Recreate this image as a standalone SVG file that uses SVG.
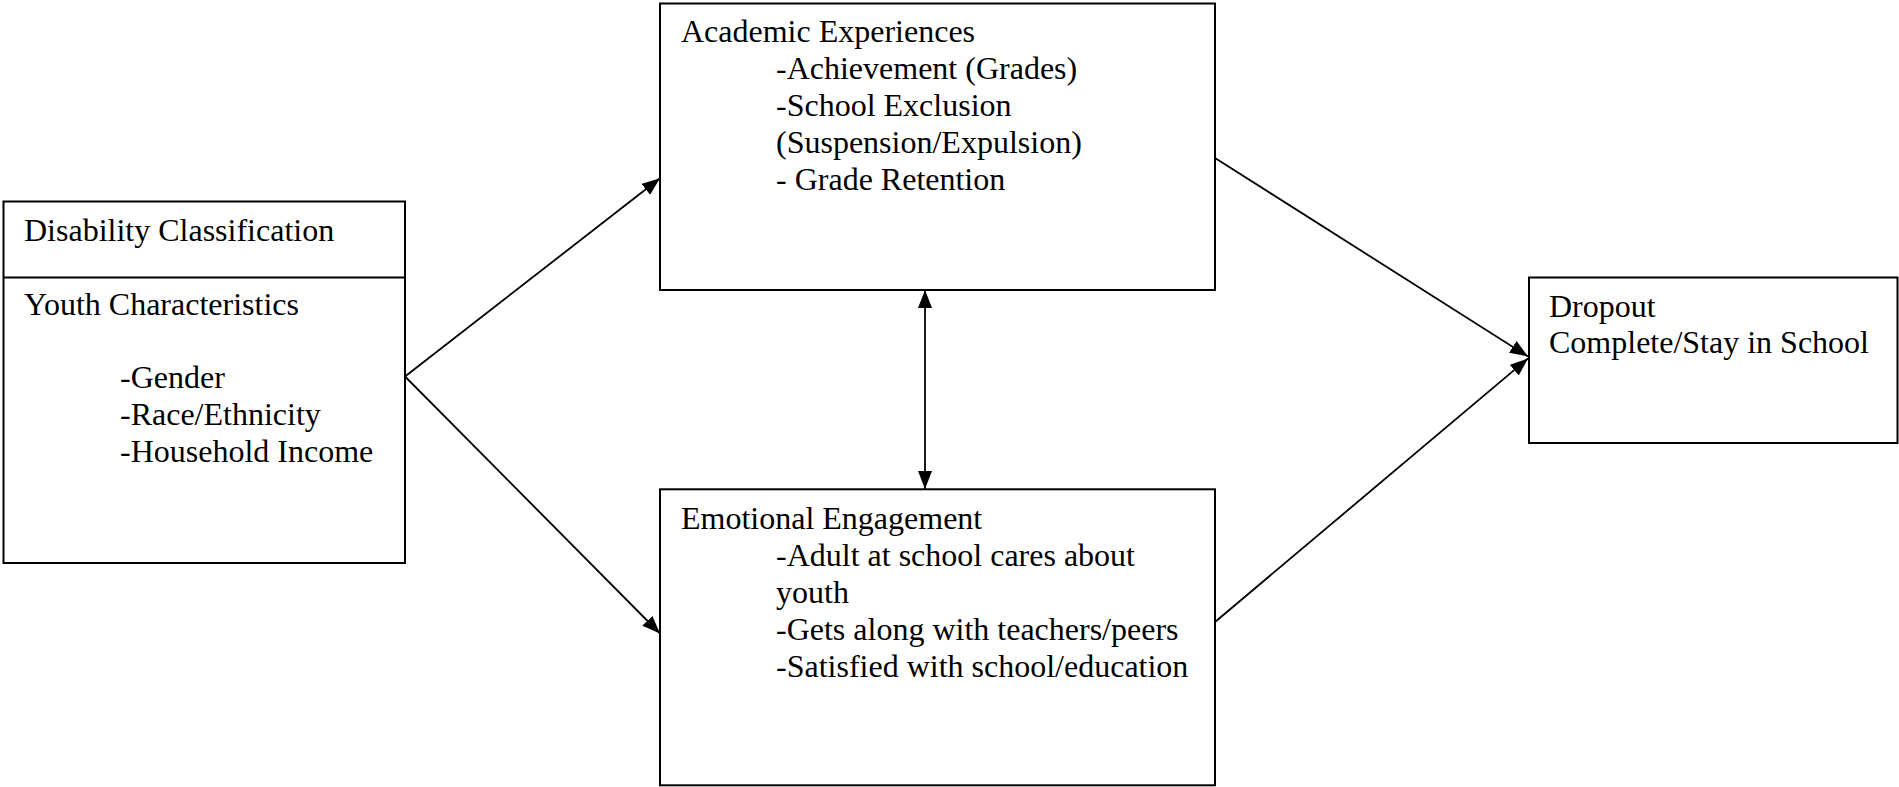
<svg xmlns="http://www.w3.org/2000/svg" width="1899" height="787" viewBox="0 0 1899 787">
<style>
.box{fill:#fff;stroke:#000;stroke-width:2}
.t{font-family:"Liberation Serif","Times New Roman",serif;font-size:32px;fill:#000}
.ln{stroke:#000;stroke-width:1.8;fill:none}
</style>
<defs>
<marker id="ah" viewBox="0 0 18 14" refX="18" refY="7" markerWidth="18" markerHeight="14" markerUnits="userSpaceOnUse" orient="auto-start-reverse">
<path d="M0,0 L18,7 L0,14 z" fill="#000"/>
</marker>
</defs>
<rect width="1899" height="787" fill="#fff"/>
<g id="connectors">
<line class="ln" x1="405" y1="376.5" x2="660" y2="178.3" marker-end="url(#ah)"/>
<line class="ln" x1="405" y1="376.5" x2="660" y2="633.5" marker-end="url(#ah)"/>
<line class="ln" x1="1215" y1="158" x2="1528" y2="356.5" marker-end="url(#ah)"/>
<line class="ln" x1="1215" y1="622" x2="1528" y2="358.5" marker-end="url(#ah)"/>
<line class="ln" x1="925" y1="290" x2="925" y2="489" marker-start="url(#ah)" marker-end="url(#ah)"/>
</g>
<g id="youth">
<rect class="box" x="3.5" y="201.5" width="401.5" height="361.5"/>
<line class="ln" x1="3.5" y1="277.5" x2="405" y2="277.5" style="stroke-width:2"/>
<text class="t" x="24" y="241">Disability Classification</text>
<text class="t" x="24" y="315">Youth Characteristics</text>
<text class="t" x="120" y="388">-Gender</text>
<text class="t" x="120" y="425">-Race/Ethnicity</text>
<text class="t" x="120" y="462">-Household Income</text>
</g>
<g id="academic">
<rect class="box" x="660" y="3.5" width="555" height="286.5"/>
<text class="t" x="681" y="42">Academic Experiences</text>
<text class="t" x="776" y="79">-Achievement (Grades)</text>
<text class="t" x="776" y="116">-School Exclusion</text>
<text class="t" x="776" y="153">(Suspension/Expulsion)</text>
<text class="t" x="776" y="190">- Grade Retention</text>
</g>
<g id="emotional">
<rect class="box" x="660" y="489.3" width="555" height="296"/>
<text class="t" x="681" y="529">Emotional Engagement</text>
<text class="t" x="776" y="566">-Adult at school cares about</text>
<text class="t" x="776" y="603">youth</text>
<text class="t" x="776" y="640">-Gets along with teachers/peers</text>
<text class="t" x="776" y="677">-Satisfied with school/education</text>
</g>
<g id="dropout">
<rect class="box" x="1529" y="277.5" width="368.5" height="165.5"/>
<text class="t" x="1549" y="317">Dropout</text>
<text class="t" x="1549" y="353">Complete/Stay in School</text>
</g>
</svg>
